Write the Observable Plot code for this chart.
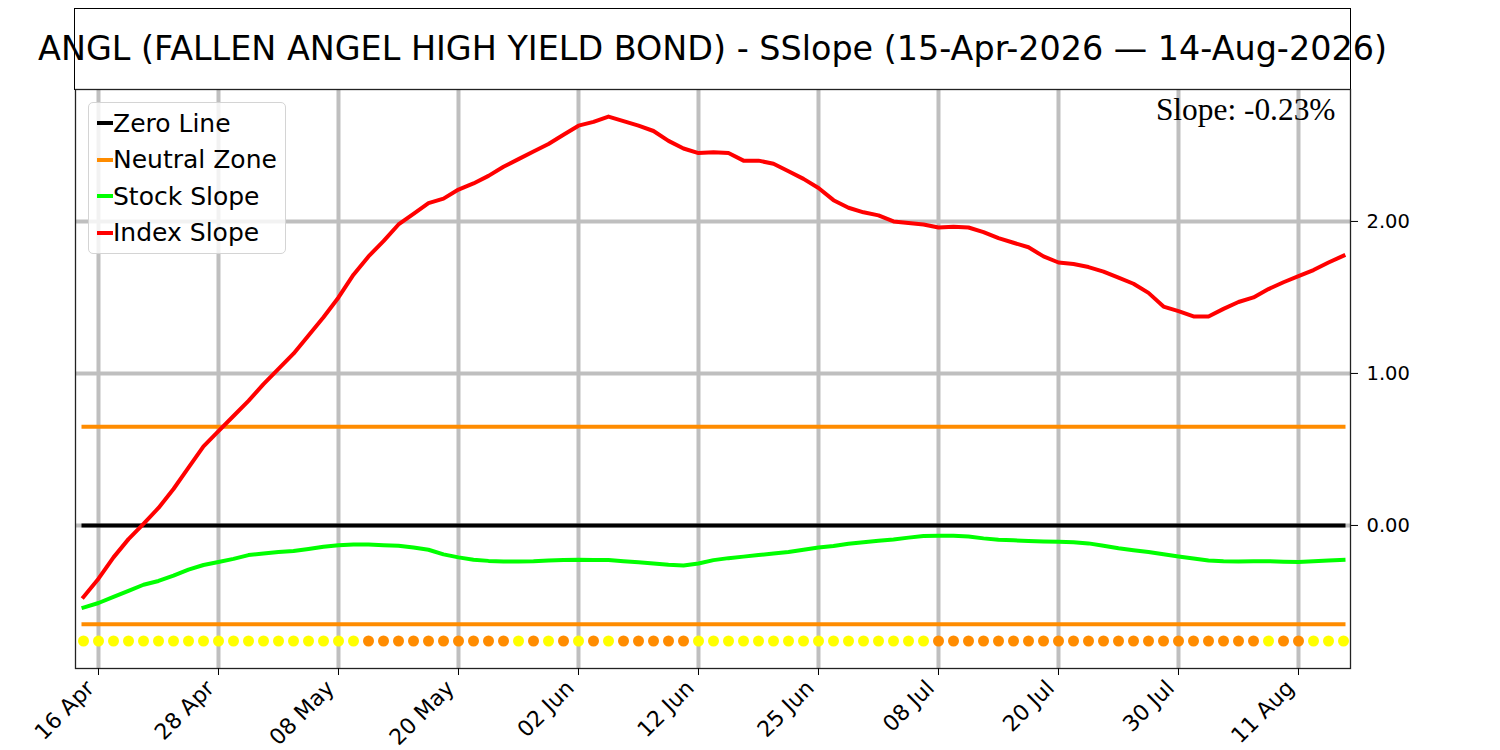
<!DOCTYPE html>
<html><head><meta charset="utf-8">
<script src="https://cdn.jsdelivr.net/npm/d3@7"></script>
<script src="https://cdn.jsdelivr.net/npm/@observablehq/plot@0.6"></script>
<style>
html,body{margin:0;padding:0;background:#fff;}
#wrap{position:relative;width:1500px;height:750px;font-family:"DejaVu Sans",sans-serif;overflow:hidden;}
#titlebox{position:absolute;left:74px;top:8px;width:1277px;height:82px;border:1.6px solid #000;box-sizing:border-box;}
#title{position:absolute;left:712.5px;top:49px;transform:translate(-50%,-50%);white-space:nowrap;font-size:33.4px;line-height:1;color:#000;}
#chart{position:absolute;left:0;top:89px;}
#legend{position:absolute;left:88px;top:102px;width:198px;height:152px;box-sizing:border-box;border:1px solid #d4d4d4;border-radius:5px;background:rgba(255,255,255,0.8);padding-top:2px;}
.row{display:flex;align-items:center;height:36.5px;font-size:25px;line-height:1;color:#000;}
.sw{width:16px;height:4px;margin-left:8px;flex:none;}
</style>
</head><body>
<div id="wrap">
  <div id="titlebox"></div>
  <div id="title"></div>
  <div id="chart"></div>
  <div id="legend"></div>
</div>
<script>
const titleText = "ANGL (FALLEN ANGEL HIGH YIELD BOND) - SSlope (15-Apr-2026 \u2014 14-Aug-2026)";
const slopeLabel = "Slope: -0.23%";

const dates = ["15 Apr","16 Apr","17 Apr","20 Apr","21 Apr","22 Apr","23 Apr","24 Apr","27 Apr","28 Apr",
"29 Apr","30 Apr","01 May","04 May","05 May","06 May","07 May","08 May","11 May","12 May",
"13 May","14 May","15 May","18 May","19 May","20 May","21 May","22 May","26 May","27 May",
"28 May","29 May","01 Jun","02 Jun","03 Jun","04 Jun","05 Jun","08 Jun","09 Jun","10 Jun",
"11 Jun","12 Jun","15 Jun","16 Jun","17 Jun","18 Jun","22 Jun","23 Jun","24 Jun","25 Jun",
"26 Jun","29 Jun","30 Jun","01 Jul","02 Jul","06 Jul","07 Jul","08 Jul","09 Jul","10 Jul",
"13 Jul","14 Jul","15 Jul","16 Jul","17 Jul","20 Jul","21 Jul","22 Jul","23 Jul","24 Jul",
"27 Jul","28 Jul","29 Jul","30 Jul","31 Jul","03 Aug","04 Aug","05 Aug","06 Aug","07 Aug",
"10 Aug","11 Aug","12 Aug","13 Aug","14 Aug"];

const indexSlope = [-0.47,-0.35,-0.21,-0.09,0.01,0.115,0.24,0.38,0.52,0.62,
0.72,0.82,0.93,1.03,1.13,1.25,1.37,1.50,1.65,1.77,
1.87,1.98,2.05,2.12,2.15,2.21,2.25,2.30,2.36,2.41,
2.46,2.51,2.57,2.63,2.655,2.69,2.66,2.63,2.595,2.53,
2.48,2.45,2.455,2.45,2.40,2.40,2.38,2.33,2.28,2.22,
2.14,2.09,2.06,2.04,2.00,1.99,1.98,1.96,1.965,1.96,
1.93,1.89,1.86,1.83,1.77,1.73,1.72,1.70,1.67,1.63,
1.59,1.53,1.44,1.41,1.375,1.375,1.425,1.47,1.50,1.555,
1.60,1.64,1.68,1.73,1.775];

const stockSlope = [-0.54,-0.51,-0.47,-0.43,-0.39,-0.365,-0.33,-0.29,-0.26,-0.24,
-0.22,-0.195,-0.185,-0.175,-0.168,-0.155,-0.14,-0.13,-0.125,-0.126,
-0.13,-0.133,-0.145,-0.16,-0.19,-0.21,-0.225,-0.233,-0.237,-0.237,
-0.236,-0.23,-0.228,-0.226,-0.227,-0.228,-0.235,-0.242,-0.25,-0.258,
-0.263,-0.25,-0.228,-0.215,-0.205,-0.195,-0.185,-0.175,-0.16,-0.145,
-0.135,-0.12,-0.11,-0.10,-0.092,-0.08,-0.07,-0.068,-0.068,-0.072,
-0.085,-0.094,-0.098,-0.102,-0.105,-0.107,-0.11,-0.118,-0.133,-0.15,
-0.163,-0.175,-0.19,-0.204,-0.218,-0.23,-0.235,-0.237,-0.236,-0.235,
-0.238,-0.24,-0.236,-0.23,-0.226];

// Y = yellow (inside neutral), O = orange signal
const signal = ["Y","Y","Y","Y","Y","Y","Y","Y","Y","Y","Y","Y","Y","Y","Y","Y","Y","Y","Y",
"O","O","O","O","O","O","O","O","O","O",
"Y","O","Y","O","Y","O","Y",
"O","O","O","O","O",
"Y","Y","Y","Y","Y","Y","Y","Y","Y","Y","Y","Y","Y","Y","Y","Y",
"O","O","O","O","O","O","O","O","O","O","O","O","O","O","O","O","O","O","O","O","O","O",
"Y","O","O","Y","Y","Y"];

const tickLabels = ["16 Apr","28 Apr","08 May","20 May","02 Jun","12 Jun","25 Jun","08 Jul","20 Jul","30 Jul","11 Aug"];
const yTicks = [0, 1, 2];
const zeroLevel = [0];
const neutralLevels = [0.65, -0.65];
const signalLevel = -0.76;

const legendItems = [
  {label:"Zero Line", color:"#000000"},
  {label:"Neutral Zone", color:"#ff8c00"},
  {label:"Stock Slope", color:"#00ff00"},
  {label:"Index Slope", color:"#ff0000"}
];

document.getElementById("title").textContent = titleText;
const lg = document.getElementById("legend");
legendItems.forEach(it => {
  const r = document.createElement("div"); r.className = "row";
  const s = document.createElement("div"); s.className = "sw"; s.style.background = it.color;
  const t = document.createElement("span"); t.textContent = it.label;
  r.appendChild(s); r.appendChild(t); lg.appendChild(r);
});

const rows = dates.map((d, i) => ({i, d, index: indexSlope[i], stock: stockSlope[i], sig: signal[i], sy: signalLevel}));
const first = 0, last = dates.length - 1;
const tickIdx = tickLabels.map(t => dates.indexOf(t));
const hline = v => [{i: first, v}, {i: last, v}];

const chart = Plot.plot({
  width: 1500, height: 661,
  marginLeft: 75, marginRight: 150, marginTop: 0, marginBottom: 82,
  style: {fontFamily: "DejaVu Sans", background: "transparent", overflow: "visible", color: "#000"},
  x: {type: "linear", domain: [first - 0.533, last + 0.467]},
  y: {domain: [-0.941, 2.868]},
  marks: [
    Plot.gridX(tickIdx, {stroke: "#bfbfbf", strokeOpacity: 1, strokeWidth: 4}),
    Plot.gridY(yTicks, {stroke: "#bfbfbf", strokeOpacity: 1, strokeWidth: 4}),
    ...zeroLevel.map(z => Plot.line(hline(z), {x: "i", y: "v", stroke: "#000", strokeWidth: 4, strokeLinecap: "square"})),
    ...neutralLevels.map(n => Plot.line(hline(n), {x: "i", y: "v", stroke: "#ff8c00", strokeWidth: 4, strokeLinecap: "square"})),
    Plot.line(rows, {x: "i", y: "stock", stroke: "#00ff00", strokeWidth: 4, strokeLinecap: "square", strokeLinejoin: "round"}),
    Plot.line(rows, {x: "i", y: "index", stroke: "#ff0000", strokeWidth: 4, strokeLinecap: "square", strokeLinejoin: "round"}),
    Plot.dot(rows, {filter: d => d.sig === "Y", x: "i", y: "sy", r: 5.5, fill: "#ffff00", stroke: "none"}),
    Plot.dot(rows, {filter: d => d.sig === "O", x: "i", y: "sy", r: 5.5, fill: "#ff8c00", stroke: "none"}),
    Plot.text([slopeLabel], {text: d => d, frameAnchor: "top-right", textAnchor: "end", lineAnchor: "top", dx: -15, dy: 8, fontSize: 31.4, fontFamily: "Liberation Serif", fill: "#000"}),
    Plot.frame({stroke: "#222", strokeWidth: 1.3}),
    Plot.axisY(yTicks, {anchor: "right", tickSize: 7, tickPadding: 9, tickFormat: d3.format(".2f"), fontSize: 19.5, label: null}),
    Plot.axisX(tickIdx, {anchor: "bottom", tickSize: 7, tickFormat: () => "", label: null}),
    Plot.axisX(tickIdx, {anchor: "bottom", tickSize: 0, tickPadding: 16, dx: -8, tickRotate: -45, tickFormat: i => dates[i], fontSize: 22, label: null})
  ]
});
document.getElementById("chart").appendChild(chart);
</script>
</body></html>
